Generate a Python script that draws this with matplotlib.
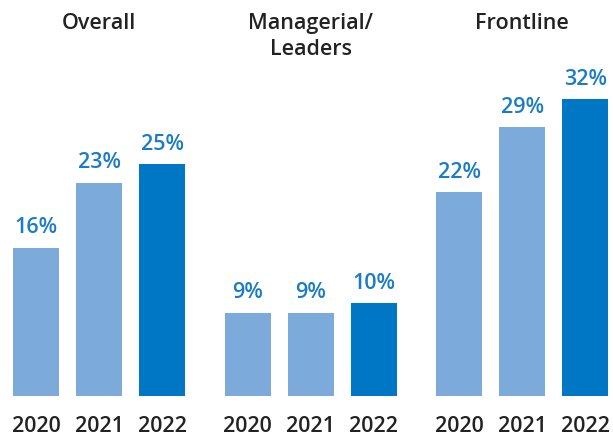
import matplotlib
matplotlib.use("Agg")
import matplotlib.pyplot as plt

groups = ["Overall", "Managerial/\nLeaders", "Frontline"]
years = ["2020", "2021", "2022"]
values = {
    "Overall": [16, 23, 25],
    "Managerial/\nLeaders": [9, 9, 10],
    "Frontline": [22, 29, 32],
}
labels = {
    "Overall": ["16%", "23%", "25%"],
    "Managerial/\nLeaders": ["9%", "9%", "10%"],
    "Frontline": ["22%", "29%", "32%"],
}

light = "#7caadb"
dark = "#0077c4"
colors = [light, light, dark]
label_color = "#1a7cc6"
text_color = "#222222"

plt.rcParams['font.family'] = ['Open Sans', 'DejaVu Sans']

fig = plt.figure(figsize=(6.13, 4.38), dpi=100)
ax = fig.add_axes([0, 0, 1, 1])

px_per_unit = 63.0
px_per_pct = 9.27
ax.set_xlim(-36 / px_per_unit, (613 - 36) / px_per_unit)
ax.set_ylim(-42 / px_per_pct, (438 - 42) / px_per_pct)
ax.axis("off")

group_step = 3.36
bar_w = 46 / px_per_unit
fs = 15.5
fw = "semibold"
for gi, g in enumerate(groups):
    xs = [gi * group_step + i for i in range(3)]
    ax.bar(xs, values[g], width=bar_w, color=colors)
    for i, (x, v, lab) in enumerate(zip(xs, values[g], labels[g])):
        ax.text(x, v + 20 / px_per_pct, lab, ha="center", va="center",
                color=label_color, fontsize=fs, fontweight=fw)
        ax.text(x, -30 / px_per_pct, years[i], ha="center", va="center",
                color=text_color, fontsize=fs, fontweight=fw)
    ax.text(xs[1], (396 - 13) / px_per_pct, g, ha="center", va="top",
            color=text_color, fontsize=fs, fontweight=fw, linespacing=1.3)

fig.savefig("out.png", dpi=100)
